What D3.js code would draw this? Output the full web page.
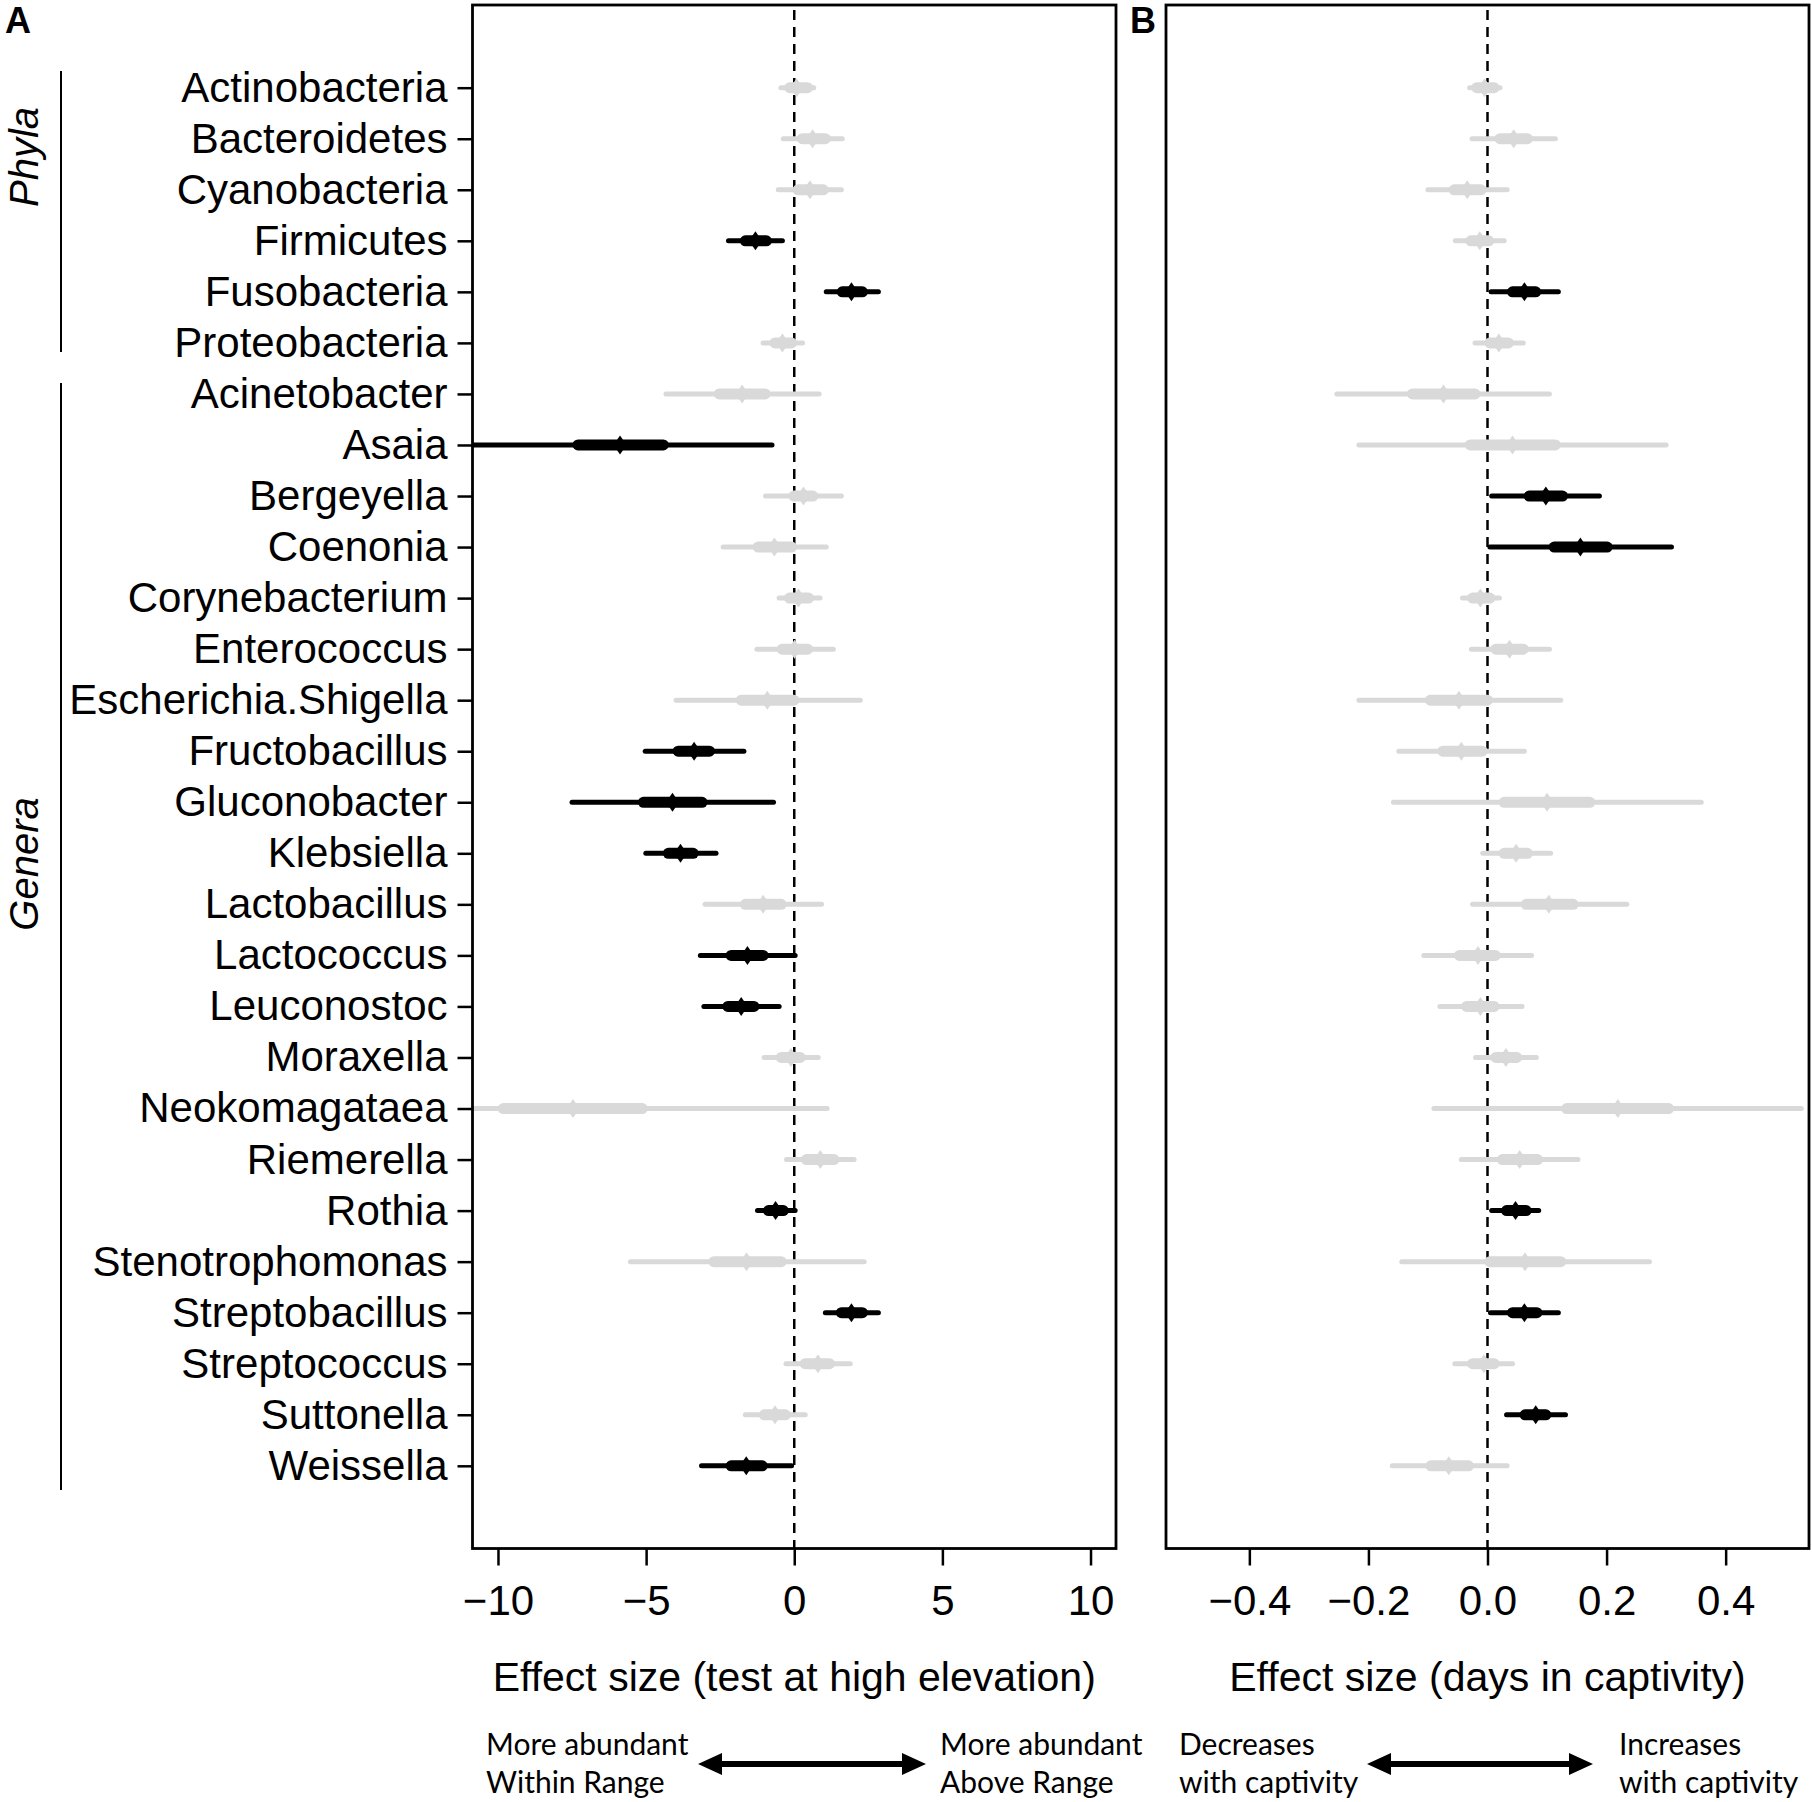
<!DOCTYPE html>
<html><head><meta charset="utf-8">
<script src="https://cdn.jsdelivr.net/npm/d3@7"></script>
<style>body{margin:0;background:#fff}</style>
</head><body><svg id="c" width="1812" height="1802"></svg>
<script>
// ---------------- DATA ----------------
const taxa = ["Actinobacteria","Bacteroidetes","Cyanobacteria","Firmicutes","Fusobacteria","Proteobacteria",
  "Acinetobacter","Asaia","Bergeyella","Coenonia","Corynebacterium","Enterococcus","Escherichia.Shigella",
  "Fructobacillus","Gluconobacter","Klebsiella","Lactobacillus","Lactococcus","Leuconostoc","Moraxella",
  "Neokomagataea","Riemerella","Rothia","Stenotrophomonas","Streptobacillus","Streptococcus","Suttonella","Weissella"];
const groups = [{name:"Phyla", first:1, last:6}, {name:"Genera", first:7, last:28}];

// Panel A: effect of test at high elevation
const aLo95  = [-0.45,-0.37,-0.54,-2.22,1.08,-1.05,-4.33,-11.5,-0.97,-2.40,-0.51,-1.26,-3.99,-5.03,-7.50,-5.01,-3.01,-3.17,-3.05,-1.02,-12.5,-0.26,-1.24,-5.53,1.05,-0.28,-1.65,-3.13];
const aLo50  = [-0.15,0.27,0.13,-1.65,1.62,-0.65,-2.53,-7.30,-0.01,-1.22,-0.16,-0.41,-1.79,-3.92,-5.09,-4.25,-1.65,-2.13,-2.24,-0.44,-9.82,0.41,-0.87,-2.71,1.59,0.37,-1.01,-2.13];
const aEst   = [0.08,0.62,0.53,-1.31,1.93,-0.40,-1.76,-5.88,0.31,-0.67,0.14,0.01,-0.91,-3.38,-4.11,-3.84,-1.05,-1.58,-1.79,-0.11,-7.47,0.88,-0.63,-1.61,1.93,0.80,-0.65,-1.62];
const aHi50  = [0.45,1.05,0.98,-0.94,2.30,-0.09,-0.98,-4.42,0.63,-0.09,0.48,0.45,-0.01,-2.86,-3.11,-3.41,-0.44,-1.05,-1.36,0.20,-5.13,1.34,-0.37,-0.44,2.30,1.19,-0.30,-1.08];
const aHi95  = [0.66,1.62,1.59,-0.40,2.84,0.28,0.84,-0.75,1.59,1.08,0.87,1.32,2.23,-1.70,-0.70,-2.64,0.92,0.03,-0.51,0.81,1.11,2.02,0.03,2.36,2.84,1.89,0.37,-0.09];
const aSig   = [0,0,0,1,1,0,0,1,0,0,0,0,0,1,1,1,0,1,1,0,0,0,1,0,1,0,0,1];

// Panel B: effect of days in captivity
const bLo95  = [-0.030,-0.026,-0.100,-0.054,0.006,-0.021,-0.253,-0.216,0.007,0.004,-0.042,-0.027,-0.216,-0.149,-0.158,-0.008,-0.025,-0.107,-0.080,-0.020,-0.090,-0.044,0.007,-0.144,0.005,-0.055,0.032,-0.160];
const bLo50  = [-0.018,0.021,-0.056,-0.028,0.042,0.004,-0.126,-0.029,0.070,0.112,-0.025,0.014,-0.096,-0.075,0.028,0.028,0.065,-0.047,-0.035,0.014,0.133,0.025,0.032,0.004,0.042,-0.025,0.063,-0.095];
const bEst   = [-0.005,0.044,-0.034,-0.013,0.062,0.019,-0.074,0.042,0.098,0.156,-0.012,0.037,-0.048,-0.044,0.100,0.048,0.103,-0.016,-0.012,0.031,0.219,0.054,0.047,0.063,0.062,-0.006,0.081,-0.065];
const bHi50  = [0.011,0.067,-0.011,0.002,0.081,0.035,-0.021,0.114,0.126,0.201,0.004,0.060,0.000,-0.009,0.172,0.067,0.144,0.013,0.011,0.049,0.304,0.084,0.065,0.123,0.083,0.011,0.098,-0.032];
const bHi95  = [0.021,0.114,0.033,0.028,0.119,0.060,0.104,0.300,0.188,0.309,0.020,0.104,0.123,0.062,0.359,0.106,0.234,0.074,0.058,0.082,0.527,0.152,0.086,0.272,0.119,0.042,0.131,0.033];
const bSig   = [0,0,0,0,1,0,0,0,1,1,0,0,0,0,0,0,0,0,0,0,0,0,1,0,1,0,1,0];

const aTicks = [-10,-5,0,5,10];
const bTicks = [-0.4,-0.2,0.0,0.2,0.4];
const titles = ["Effect size (test at high elevation)", "Effect size (days in captivity)"];
const directionA = [["More abundant","Within Range"],["More abundant","Above Range"]];
const directionB = [["Decreases","with captivity"],["Increases","with captivity"]];

// ---------------- LAYOUT ----------------
const W = 1812, H = 1802;
const FONT = '"Liberation Sans", Arial, Helvetica, sans-serif';
const SIG = "#000", NS = "#d9d9d9";
const boxTop = 5, boxBottom = 1548.5;
const svg = d3.select("#c");
svg.append("rect").attr("width", W).attr("height", H).attr("fill", "#fff");

const y = d3.scaleLinear().domain([1 - 1.62, taxa.length + 1.62]).range([boxTop, boxBottom]);

const panels = [
  {id:"A", x: d3.scaleLinear().domain([-10.86, 10.86]).range([472.5, 1116]), ticks: aTicks, fmt: d3.format("d"),
   lo95:aLo95, lo50:aLo50, est:aEst, hi50:aHi50, hi95:aHi95, sig:aSig, title: titles[0], labelX: 5, dir: directionA,
   dirX:[486, 940], arrow:[698, 926]},
  {id:"B", x: d3.scaleLinear().domain([-0.54, 0.54]).range([1166, 1809]), ticks: bTicks, fmt: d3.format(".1f"),
   lo95:bLo95, lo50:bLo50, est:bEst, hi50:bHi50, hi95:bHi95, sig:bSig, title: titles[1], labelX: 1130, dir: directionB,
   dirX:[1179, 1619], arrow:[1367, 1593]}
];

panels.forEach((p, pi) => {
  const [x0, x1] = p.x.range();
  const clipId = "clip" + p.id;
  svg.append("clipPath").attr("id", clipId).append("rect")
    .attr("x", x0).attr("y", boxTop).attr("width", x1 - x0).attr("height", boxBottom - boxTop);

  // zero reference line
  svg.append("line").attr("x1", p.x(0)).attr("x2", p.x(0)).attr("y1", 10).attr("y2", boxBottom)
    .attr("stroke", "#000").attr("stroke-width", 2.5).attr("stroke-dasharray", "10,7");

  const g = svg.append("g").attr("clip-path", `url(#${clipId})`);
  const rows = d3.range(taxa.length);
  const rg = g.selectAll("g.row").data(rows).join("g").attr("class", "row");
  rg.append("line")
    .attr("x1", i => p.x(p.lo95[i])).attr("x2", i => p.x(p.hi95[i]))
    .attr("y1", i => y(i + 1)).attr("y2", i => y(i + 1))
    .attr("stroke", i => p.sig[i] ? SIG : NS).attr("stroke-width", 5).attr("stroke-linecap", "round");
  rg.append("line")
    .attr("x1", i => p.x(p.lo50[i])).attr("x2", i => p.x(p.hi50[i]))
    .attr("y1", i => y(i + 1)).attr("y2", i => y(i + 1))
    .attr("stroke", i => p.sig[i] ? SIG : NS).attr("stroke-width", 11).attr("stroke-linecap", "round");
  rg.append("path")
    .attr("d", "M0,-9.5L6.5,0L0,9.5L-6.5,0Z")
    .attr("transform", i => `translate(${p.x(p.est[i])},${y(i + 1)})`)
    .attr("fill", i => p.sig[i] ? SIG : NS);

  // box
  svg.append("rect").attr("x", x0).attr("y", boxTop).attr("width", x1 - x0).attr("height", boxBottom - boxTop)
    .attr("fill", "none").attr("stroke", "#000").attr("stroke-width", 2.8);

  // x axis
  const ax = svg.append("g").attr("transform", `translate(0,${boxBottom})`)
    .call(d3.axisBottom(p.x).tickValues(p.ticks).tickFormat(p.fmt).tickSize(17).tickPadding(19.5));
  ax.select(".domain").remove();
  ax.selectAll(".tick line").attr("stroke-width", 2.5);
  ax.selectAll("text").attr("font-family", FONT).attr("font-size", 42).attr("fill", "#000");

  // axis title
  svg.append("text").attr("x", (x0 + x1) / 2).attr("y", 1691).attr("text-anchor", "middle")
    .attr("font-family", FONT).attr("font-size", 41).attr("fill", "#000").text(p.title);

  // panel letter
  svg.append("text").attr("x", p.labelX).attr("y", 33).attr("font-family", FONT).attr("font-weight", "bold")
    .attr("font-size", 36).attr("fill", "#000").text(p.id);

  // direction annotations
  p.dir.forEach((lines, k) => {
    const t = svg.append("text").attr("font-family", "Lato, 'Open Sans', sans-serif").attr("font-size", 30).attr("fill", "#000");
    t.append("tspan").attr("x", p.dirX[k]).attr("y", 1755).text(lines[0]);
    t.append("tspan").attr("x", p.dirX[k]).attr("y", 1793).text(lines[1]);
  });
  const [ax0, ax1] = p.arrow, ay = 1764, hl = 24, hh = 11, sh = 3;
  svg.append("path").attr("fill", "#000").attr("d",
    `M${ax0},${ay}L${ax0 + hl},${ay - hh}L${ax0 + hl},${ay - sh}L${ax1 - hl},${ay - sh}L${ax1 - hl},${ay - hh}` +
    `L${ax1},${ay}L${ax1 - hl},${ay + hh}L${ax1 - hl},${ay + sh}L${ax0 + hl},${ay + sh}L${ax0 + hl},${ay + hh}Z`);
});

// y axis (panel A only)
const xA0 = panels[0].x.range()[0];
const yax = svg.append("g").attr("transform", `translate(${xA0},0)`)
  .call(d3.axisLeft(y).tickValues(d3.range(1, taxa.length + 1)).tickFormat(d => taxa[d - 1]).tickSize(15).tickPadding(10));
yax.select(".domain").remove();
yax.selectAll(".tick line").attr("stroke-width", 2.5);
yax.selectAll("text").attr("font-family", FONT).attr("font-size", 42).attr("fill", "#000");

// group brackets
const gStarts = {Phyla:[71, 352, 157], Genera:[383, 1490, 864]};
groups.forEach(gr => {
  const [ya, yb, yc] = gStarts[gr.name];
  svg.append("line").attr("x1", 61).attr("x2", 61).attr("y1", ya).attr("y2", yb)
    .attr("stroke", "#000").attr("stroke-width", 2);
  svg.append("text").attr("transform", `translate(38,${yc}) rotate(-90)`).attr("text-anchor", "middle")
    .attr("font-family", FONT).attr("font-style", "italic").attr("font-size", 40).attr("fill", "#000").text(gr.name);
});
</script></body></html>
